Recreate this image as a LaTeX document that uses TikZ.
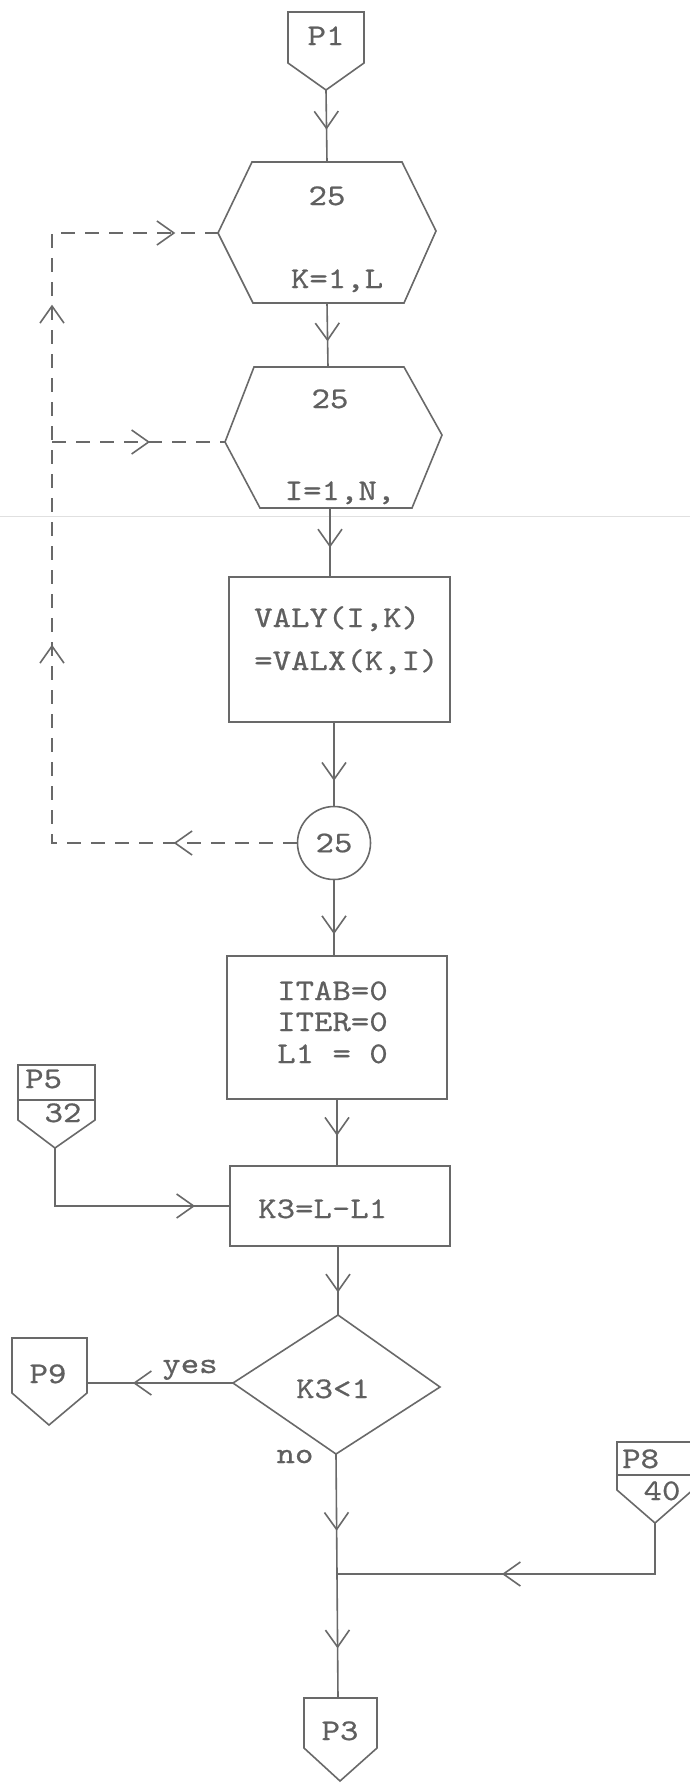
\documentclass[tikz,border=0pt]{standalone}
\usetikzlibrary{arrows.meta,decorations.markings}
\font\twfont="[lmmono10-regular.otf]:extend=1.17;embolden=0.6" at 30pt
\definecolor{ink}{RGB}{105,105,105}
\definecolor{txt}{RGB}{95,95,95}
\newcommand\barbtip{\arrow[ink]{Straight Barb[length=17pt,width=24pt,line width=1.6pt]}}
\tikzset{
  ln/.style={draw=ink,line width=1.6pt},
  dl/.style={ln,dash pattern=on 14pt off 10pt},
  lbl/.style={font=\twfont,text=txt,inner sep=0pt,anchor=base},
  arr/.style={postaction={decorate},decoration={markings,mark=at position #1 with {\barbtip}}},
  loopmarks/.style={postaction={decorate},decoration={markings,
      mark=at position 123pt with {\barbtip},
      mark=at position 443pt with {\barbtip},
      mark=at position 783pt with {\barbtip},
      mark=at position 978pt with {\barbtip}}},
  boxnode/.style={ln,rectangle,inner sep=0pt},
}
\begin{document}
\begin{tikzpicture}[x=1pt,y=-1pt]
\useasboundingbox (0,0) rectangle (690,1783);
\fill[white] (0,0) rectangle (690,1783);
% faint scan line
\draw[draw=black!12,line width=0.8pt] (0,516) -- (690,516);

% P1
\draw[ln] (288,12) -- (364,12) -- (364,63) -- (326,90) -- (288,63) -- cycle;
\coordinate (p1) at (326,90);
\node[lbl] (p1t) at (326,45) {P1};

% hexagon 1
\draw[ln] (252,162) -- (402,162) -- (436,231) -- (404,303) -- (253,303) -- (218,233) -- cycle;
\coordinate (h1n) at (327,162);
\coordinate (h1s) at (327,303);
\coordinate (h1w) at (218,233);
\node[lbl] (h1a) at (327,205) {25};
\node[lbl] (h1b) at (337,288) {K=1,L};

% hexagon 2
\draw[ln] (254,367) -- (404,367) -- (442,435) -- (412,508) -- (260,508) -- (225,442) -- cycle;
\coordinate (h2n) at (328,367);
\coordinate (h2s) at (330,508);
\coordinate (h2w) at (225,442);
\node[lbl] (h2a) at (330,408) {25};
\node[lbl] (h2b) at (340,500) {I=1,N,};

% VALY box
\node[boxnode,minimum width=221pt,minimum height=145pt] (b1) at (339.5,649.5) {};
\node[lbl,anchor=base west] (t1) at (254,627) {VALY(I,K)};
\node[lbl,anchor=base west] (t2) at (254,670) {=VALX(K,I)};

% circle 25
\node[ln,circle,minimum size=73pt,inner sep=0pt,font=\twfont,text=txt] (c1) at (334,843) {25};

% ITAB box
\node[boxnode,minimum width=220pt,minimum height=143pt] (b2) at (337,1027.5) {};
\node[lbl,anchor=base west] (t3) at (277,1000) {ITAB=0};
\node[lbl,anchor=base west] (t4) at (277,1031) {ITER=0};
\node[lbl,anchor=base west] (t5) at (277,1063) {L1 = 0};

% K3 box
\node[boxnode,minimum width=220pt,minimum height=80pt] (b3) at (340,1206) {};
\node[lbl,anchor=base west] (t6) at (258,1218) {K3=L-L1};

% diamond
\draw[ln] (338,1315) -- (440,1387) -- (336,1454) -- (233,1383) -- cycle;
\coordinate (dn) at (338,1315);
\coordinate (ds) at (336,1454);
\coordinate (dw) at (233,1383);
\node[lbl] (t7) at (333,1398) {K3<1};
\node[lbl] (no) at (295,1463) {no};
\node[lbl] (yes) at (190,1373) {yes};

% P9
\draw[ln] (12,1338) -- (87,1338) -- (87,1393) -- (49,1425) -- (12,1393) -- cycle;
\coordinate (p9e) at (87,1383);
\node[lbl] (p9t) at (48,1383) {P9};

% P5
\draw[ln] (18,1065) -- (95,1065) -- (95,1120) -- (55,1148) -- (18,1120) -- cycle;
\draw[ln] (18,1100) -- (95,1100);
\coordinate (p5) at (55,1148);
\node[lbl,anchor=base west] (p5t) at (25,1088) {P5};
\node[lbl] (p5n) at (63,1122) {32};

% P8
\draw[ln] (617,1442) -- (695,1442) -- (695,1488) -- (655,1523) -- (617,1490) -- cycle;
\draw[ln] (617,1475) -- (695,1475);
\coordinate (p8) at (655,1523);
\node[lbl,anchor=base west] (p8t) at (622,1468) {P8};
\node[lbl] (p8n) at (662,1500) {40};

% P3
\draw[ln] (304,1698) -- (377,1698) -- (377,1748) -- (340,1781) -- (304,1748) -- cycle;
\coordinate (p3n) at (338,1698);
\node[lbl] (p3t) at (340,1740) {P3};

% junction
\coordinate (j) at (337,1574);

% connectors
\draw[ln,arr=0.55] (p1) -- (h1n);
\draw[ln,arr=0.6] (h1s) -- (h2n);
\draw[ln,arr=0.58] (h2s) -- (h2s |- b1.north);
\draw[ln,arr=0.7] (c1.north |- b1.south) -- (c1.north);
\draw[ln,arr=0.72] (c1.south) -- (c1.south |- b2.north);
\draw[ln,arr=0.55] (b2.south) -- (b2.south |- b3.north);
\draw[ln,arr=0.67] (dn |- b3.south) -- (dn);
\draw[ln,arr=0.64] (ds) -- (j);
\draw[ln,arr=0.6] (j) -- (p3n);
\draw[ln,arr=204pt] (p8) |- (j);
\draw[ln,arr=100pt] (dw) -- (p9e);
\draw[ln,arr=198pt] (p5) |- (b3.west);

% dashed loop
\coordinate (lc) at (52,233);
\coordinate (lb) at (52,442);
\draw[dl,loopmarks] (c1.west) -| (lc) -- (h1w);
\draw[dl,arr=98pt] (lb) -- (h2w);
\end{tikzpicture}
\end{document}
